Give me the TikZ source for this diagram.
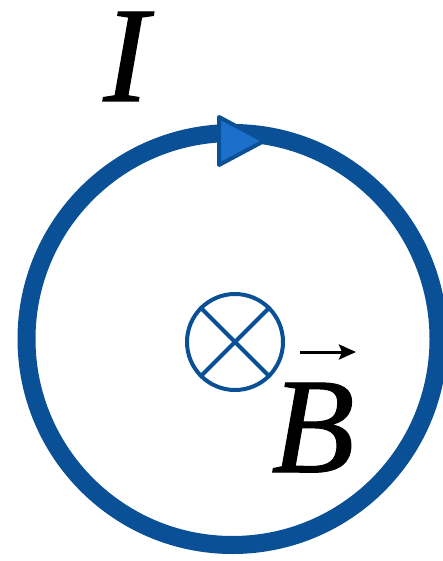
\documentclass[tikz,border=0pt]{standalone}
\usepackage{fontspec}
\setmainfont{Liberation Serif}
\newfontfamily\lblfont{Liberation Serif Italic}[FakeBold=0.8]
\usetikzlibrary{arrows.meta}
\definecolor{loopblue}{HTML}{0A5096}
\definecolor{tipblue}{HTML}{1C70CC}
\tikzset{
  loop/.style={draw=loopblue, line width=18pt},
  fieldsym/.style={draw=loopblue, line width=4pt},
  biglabel/.style={inner sep=0pt, font=\fontsize{136}{136}\lblfont, text=black},
  dirtip/.style={draw=loopblue, fill=tipblue, line width=4pt, line join=round}
}
\begin{document}
\begin{tikzpicture}[x=1pt,y=-1pt]
\useasboundingbox (0,0) rectangle (443,561);
\fill[white] (0,0) rectangle (443,561);
% current loop
\coordinate (c) at (232.5,339);
\draw[loop] (c) circle[radius=206];
% direction triangle
\coordinate (t1) at (219,117);
\coordinate (t2) at (219,165);
\coordinate (t3) at (264,141);
\draw[dirtip] (t1) -- (t3) -- (t2) -- cycle;
% field into page symbol
\node[circle, fieldsym, minimum size=96pt, inner sep=0pt] (x) at (235,342) {};
\draw[fieldsym] (x.45) -- (x.225);
\draw[fieldsym] (x.135) -- (x.315);
% labels
\node[biglabel, anchor=base] (I) at (126,101) {I};
\node[biglabel, anchor=base] (B) at (313,472) {B};
\coordinate (bs) at (300,352);
\coordinate (be) at (356,352);
\draw[line width=3pt, -{Stealth[length=17pt,width=15pt,inset=3pt]}] (bs) -- (be);
\end{tikzpicture}
\end{document}
